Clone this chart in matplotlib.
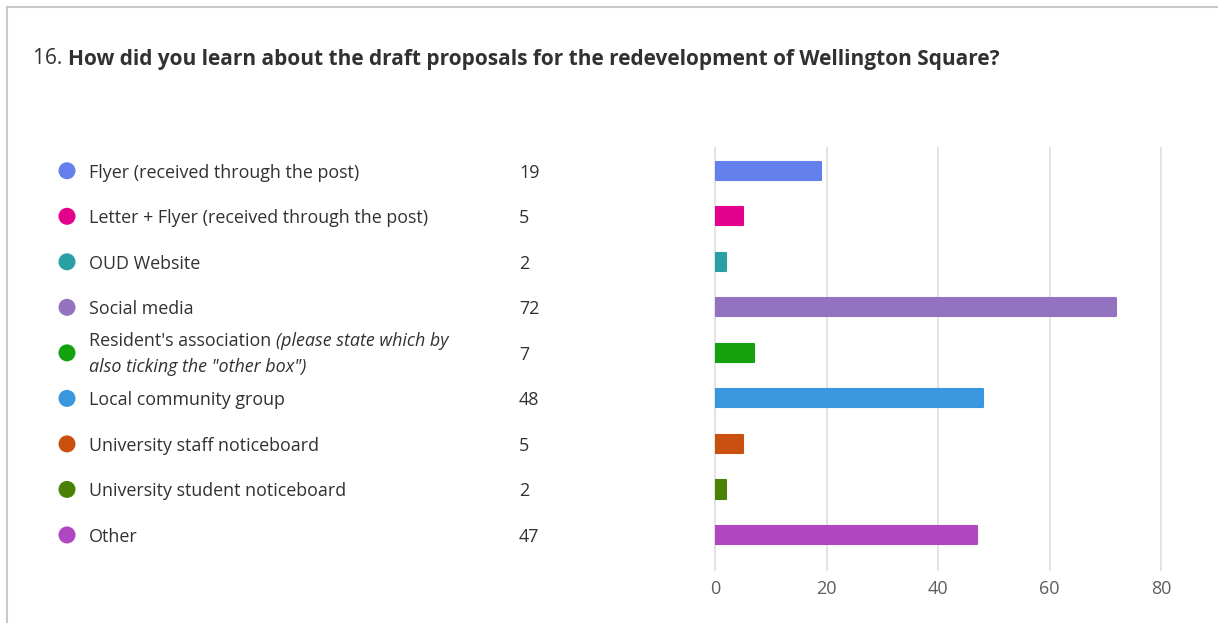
import matplotlib
matplotlib.use('Agg')
from matplotlib import pyplot as plt
from matplotlib.lines import Line2D


FONT = 'Open Sans'
TEXT_COLOR = '#323130'
LSIZE = 12.9

categories = [
    'Flyer (received through the post)',
    'Letter + Flyer (received through the post)',
    'OUD Website',
    'Social media',
    "Resident's association",
    'Local community group',
    'University staff noticeboard',
    'University student noticeboard',
    'Other',
]
counts = [19, 5, 2, 72, 7, 48, 5, 2, 47]
colors = ['#6380EC', '#E3008C', '#2AA0A4', '#9373C0', '#13A10E',
          '#3A96DD', '#CA5010', '#498205', '#B146C2']
x_ticks = [0, 20, 40, 60, 80]

W, H = 1218, 623


def fy(py):
    # pixel row -> figure fraction
    return 1 - py / H


fig = plt.figure(figsize=(W / 100, H / 100), dpi=100)
fig.patch.set_facecolor('white')

ax_bottom, ax_top = fy(570), fy(148)
ax = fig.add_axes([715 / W, ax_bottom, (1161 - 715) / W, ax_top - ax_bottom])
ylim = (8.77, -0.5)

rows = list(range(len(categories)))
ax.barh(rows, counts, height=0.40, color=colors, edgecolor=colors,
        linewidth=1.5, joinstyle='round', zorder=3)
ax.set_xlim(0, 80)
ax.set_ylim(*ylim)
ax.set_xticks(x_ticks)
ax.set_yticks([])
for s in ax.spines.values():
    s.set_visible(False)
ax.grid(axis='x', color='#e1e1e1', linewidth=1.3, zorder=0)
ax.set_axisbelow(True)
for g in ax.get_xgridlines():
    g.set_clip_on(False)
ax.tick_params(axis='x', length=0, pad=7, labelsize=13, labelcolor='#605e5c')
for lab in ax.get_xticklabels():
    lab.set_fontfamily(FONT)

# legend area on the left, shares the row scale with the bars
lax = fig.add_axes([0, ax_bottom, 1, ax_top - ax_bottom])
lax.set_xlim(0, W)
lax.set_ylim(*ylim)
lax.axis('off')
lax.scatter([67] * len(rows), rows, s=150, c=colors, linewidths=0, clip_on=False)
dy = 0.04
for i, (name, n) in enumerate(zip(categories, counts)):
    if i == 4:
        t = lax.text(89, i - 0.30 + dy, name + ' ', fontsize=LSIZE, family=FONT,
                     color=TEXT_COLOR, va='center', ha='left')
        lax.annotate('(please state which by', xy=(1, 0), xycoords=t,
                     fontsize=LSIZE, family=FONT, style='italic',
                     color=TEXT_COLOR, va='bottom', ha='left')
        lax.text(89, i + 0.27 + dy, 'also ticking the "other box")', fontsize=LSIZE,
                 family=FONT, style='italic', color=TEXT_COLOR,
                 va='center', ha='left')
    else:
        lax.text(89, i + dy, name, fontsize=LSIZE, family=FONT, color=TEXT_COLOR,
                 va='center', ha='left')
    lax.text(519, i + dy, str(n), fontsize=LSIZE, family=FONT, color=TEXT_COLOR,
             va='center', ha='left')

# title
t = fig.text(33 / W, fy(59), '16. ', fontsize=15, family=FONT,
             color=TEXT_COLOR, va='center', ha='left')
plt.annotate('How did you learn about the draft proposals for the redevelopment of Wellington Square?',
             xy=(1, 0), xycoords=t, fontsize=15, family=FONT, weight='bold',
             color=TEXT_COLOR, va='bottom', ha='left', annotation_clip=False)

# card border (top and left edges)
fig.add_artist(Line2D([7 / W, 1], [fy(7), fy(7)], color='#c8c8c8', linewidth=1.5))
fig.add_artist(Line2D([7 / W, 7 / W], [fy(7), 0], color='#c8c8c8', linewidth=1.5))

fig.savefig('out.png', dpi=100, facecolor='white')
